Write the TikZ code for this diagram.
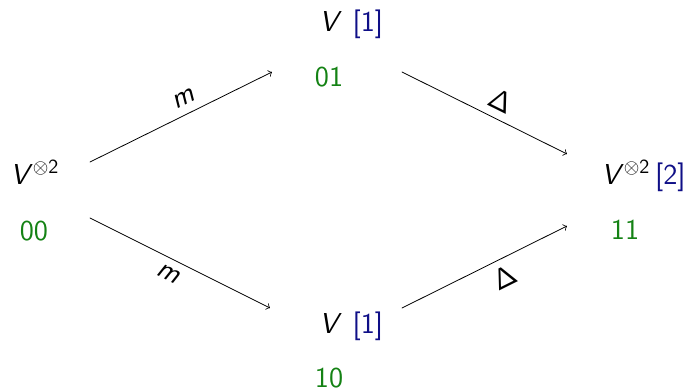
\documentclass[tikz,border=0pt]{standalone}
\usepackage{tikz}
\usetikzlibrary{arrows.meta,positioning}

\definecolor{stategreen}{RGB}{20,130,20}
\definecolor{degblue}{RGB}{15,15,135}

\begin{document}
\begin{tikzpicture}[x=0.5pt, y=-0.5pt, line cap=round, line join=round, >=to,
  every node/.style={font=\sffamily\Large},
  vtx/.style={inner sep=0pt, anchor=base west},
  deg/.style={inner sep=0pt, text=degblue},
  state/.style={inner sep=0pt, text=stategreen},
  lbl/.style={sloped, inner sep=4pt}]
  \useasboundingbox (0,0) rectangle (693,392);

  % Vertices of the cube with their degree shifts
  \node[vtx] (v00) at (10,184) {\textit{V}$^{\otimes\mathsf{2}}$};
  \node[vtx] (v01) at (319,31) {\textit{V}};
  \node[deg, base right=5pt of v01] (d01) {[1]};
  \node[vtx] (v10) at (319,333) {\textit{V}};
  \node[deg, base right=5pt of v10] (d10) {[1]};
  \node[vtx] (v11) at (601,184) {\textit{V}$^{\otimes\mathsf{2}}$};
  \node[deg, base right=2pt of v11] (d11) {[2]};

  % Resolution labels (green)
  \node[state] (s00) at (34,231) {00};
  \node[state] (s01) at (329,77) {01};
  \node[state] (s10) at (329,378) {10};
  \node[state] (s11) at (625,230) {11};

  % Edge maps
  \coordinate (e00a) at (90,162);
  \coordinate (e01a) at (272,72);
  \coordinate (e00b) at (90,218);
  \coordinate (e10a) at (270,308);
  \coordinate (e01b) at (402,72);
  \coordinate (e11a) at (567,154);
  \coordinate (e10b) at (402,308);
  \coordinate (e11b) at (567,226);
  \draw[->] (e00a) -- (e01a) node[lbl, above, pos=0.55] {\textit{m}};
  \draw[->] (e00b) -- (e10a) node[lbl, below, pos=0.47] {\textit{m}};
  \draw[->] (e01b) -- (e11a) node[lbl, above, pos=0.55] {$\mathsf{\Delta}$};
  \draw[->] (e10b) -- (e11b) node[lbl, below, pos=0.57] {$\mathsf{\Delta}$};
\end{tikzpicture}
\end{document}
